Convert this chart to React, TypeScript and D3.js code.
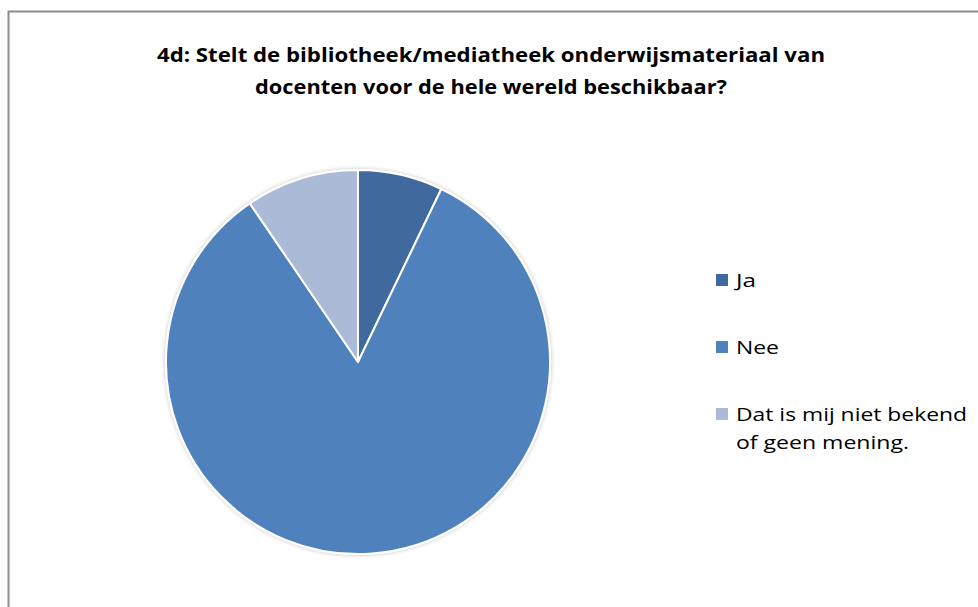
import * as d3 from "d3";

const categories = ["Ja", "Nee", "Dat is mij niet bekend of geen mening."];
const legendLines = [["Ja"], ["Nee"], ["Dat is mij niet bekend", "of geen mening."]];
const legendWidths = [[20], [43], [231, 173]];
const counts = [3, 35, 4];
const colors = ["#3F6A9E", "#4F81BD", "#AABAD7"];
const titleLines = [
  "4d: Stelt de bibliotheek/mediatheek onderwijsmateriaal van",
  "docenten voor de hele wereld beschikbaar?",
];
const titleWidths = [668, 472];

const W = 978;
const H = 607;
const cx = 358;
const cy = 362;
const r = 192;

const App = () => {
  const pie = d3.pie<number>().sort(null).value((d) => d);
  const arcs = pie(counts);
  const arc = d3.arc<d3.PieArcDatum<number>>().innerRadius(0).outerRadius(r);

  return (
    <svg
      width={W}
      height={H}
      style={{ position: "absolute", left: 0, top: 0, fontFamily: "'Open Sans', sans-serif" }}
    >
      <defs>
        <filter id="sh" x="-20%" y="-20%" width="140%" height="140%">
          <feGaussianBlur in="SourceAlpha" stdDeviation="2" />
          <feComponentTransfer>
            <feFuncA type="linear" slope="0.25" />
          </feComponentTransfer>
          <feMerge>
            <feMergeNode />
            <feMergeNode in="SourceGraphic" />
          </feMerge>
        </filter>
      </defs>
      <rect x={0} y={0} width={W} height={H} fill="#fff" />
      <rect x={8.5} y={11.5} width={W + 10} height={H + 10} fill="#fff" stroke="#8c8c8c" strokeWidth={2} />
      {titleLines.map((t, i) => (
        <text
          key={i}
          x={491}
          y={62 + i * 32}
          textAnchor="middle"
          fontWeight="bold"
          fontSize={19.5}
          textLength={titleWidths[i]}
          lengthAdjust="spacingAndGlyphs"
          fill="#000"
        >
          {t}
        </text>
      ))}
      <g transform={`translate(${cx},${cy})`} filter="url(#sh)">
        {arcs.map((a, i) => (
          <path key={categories[i]} d={arc(a) ?? ""} fill={colors[i]} stroke="#fff" strokeWidth={2} strokeLinejoin="round" />
        ))}
      </g>
      {legendLines.map((lines, i) => (
        <g key={i} transform={`translate(716,${274 + i * 67})`}>
          <rect x={0} y={0} width={12} height={12} fill={colors[i]} />
          {lines.map((l, j) => (
            <text
              key={j}
              x={20}
              y={13 + j * 28}
              fontSize={18}
              textLength={legendWidths[i][j]}
              lengthAdjust="spacingAndGlyphs"
              fill="#000"
            >
              {l}
            </text>
          ))}
        </g>
      ))}
    </svg>
  );
};

export default App;
